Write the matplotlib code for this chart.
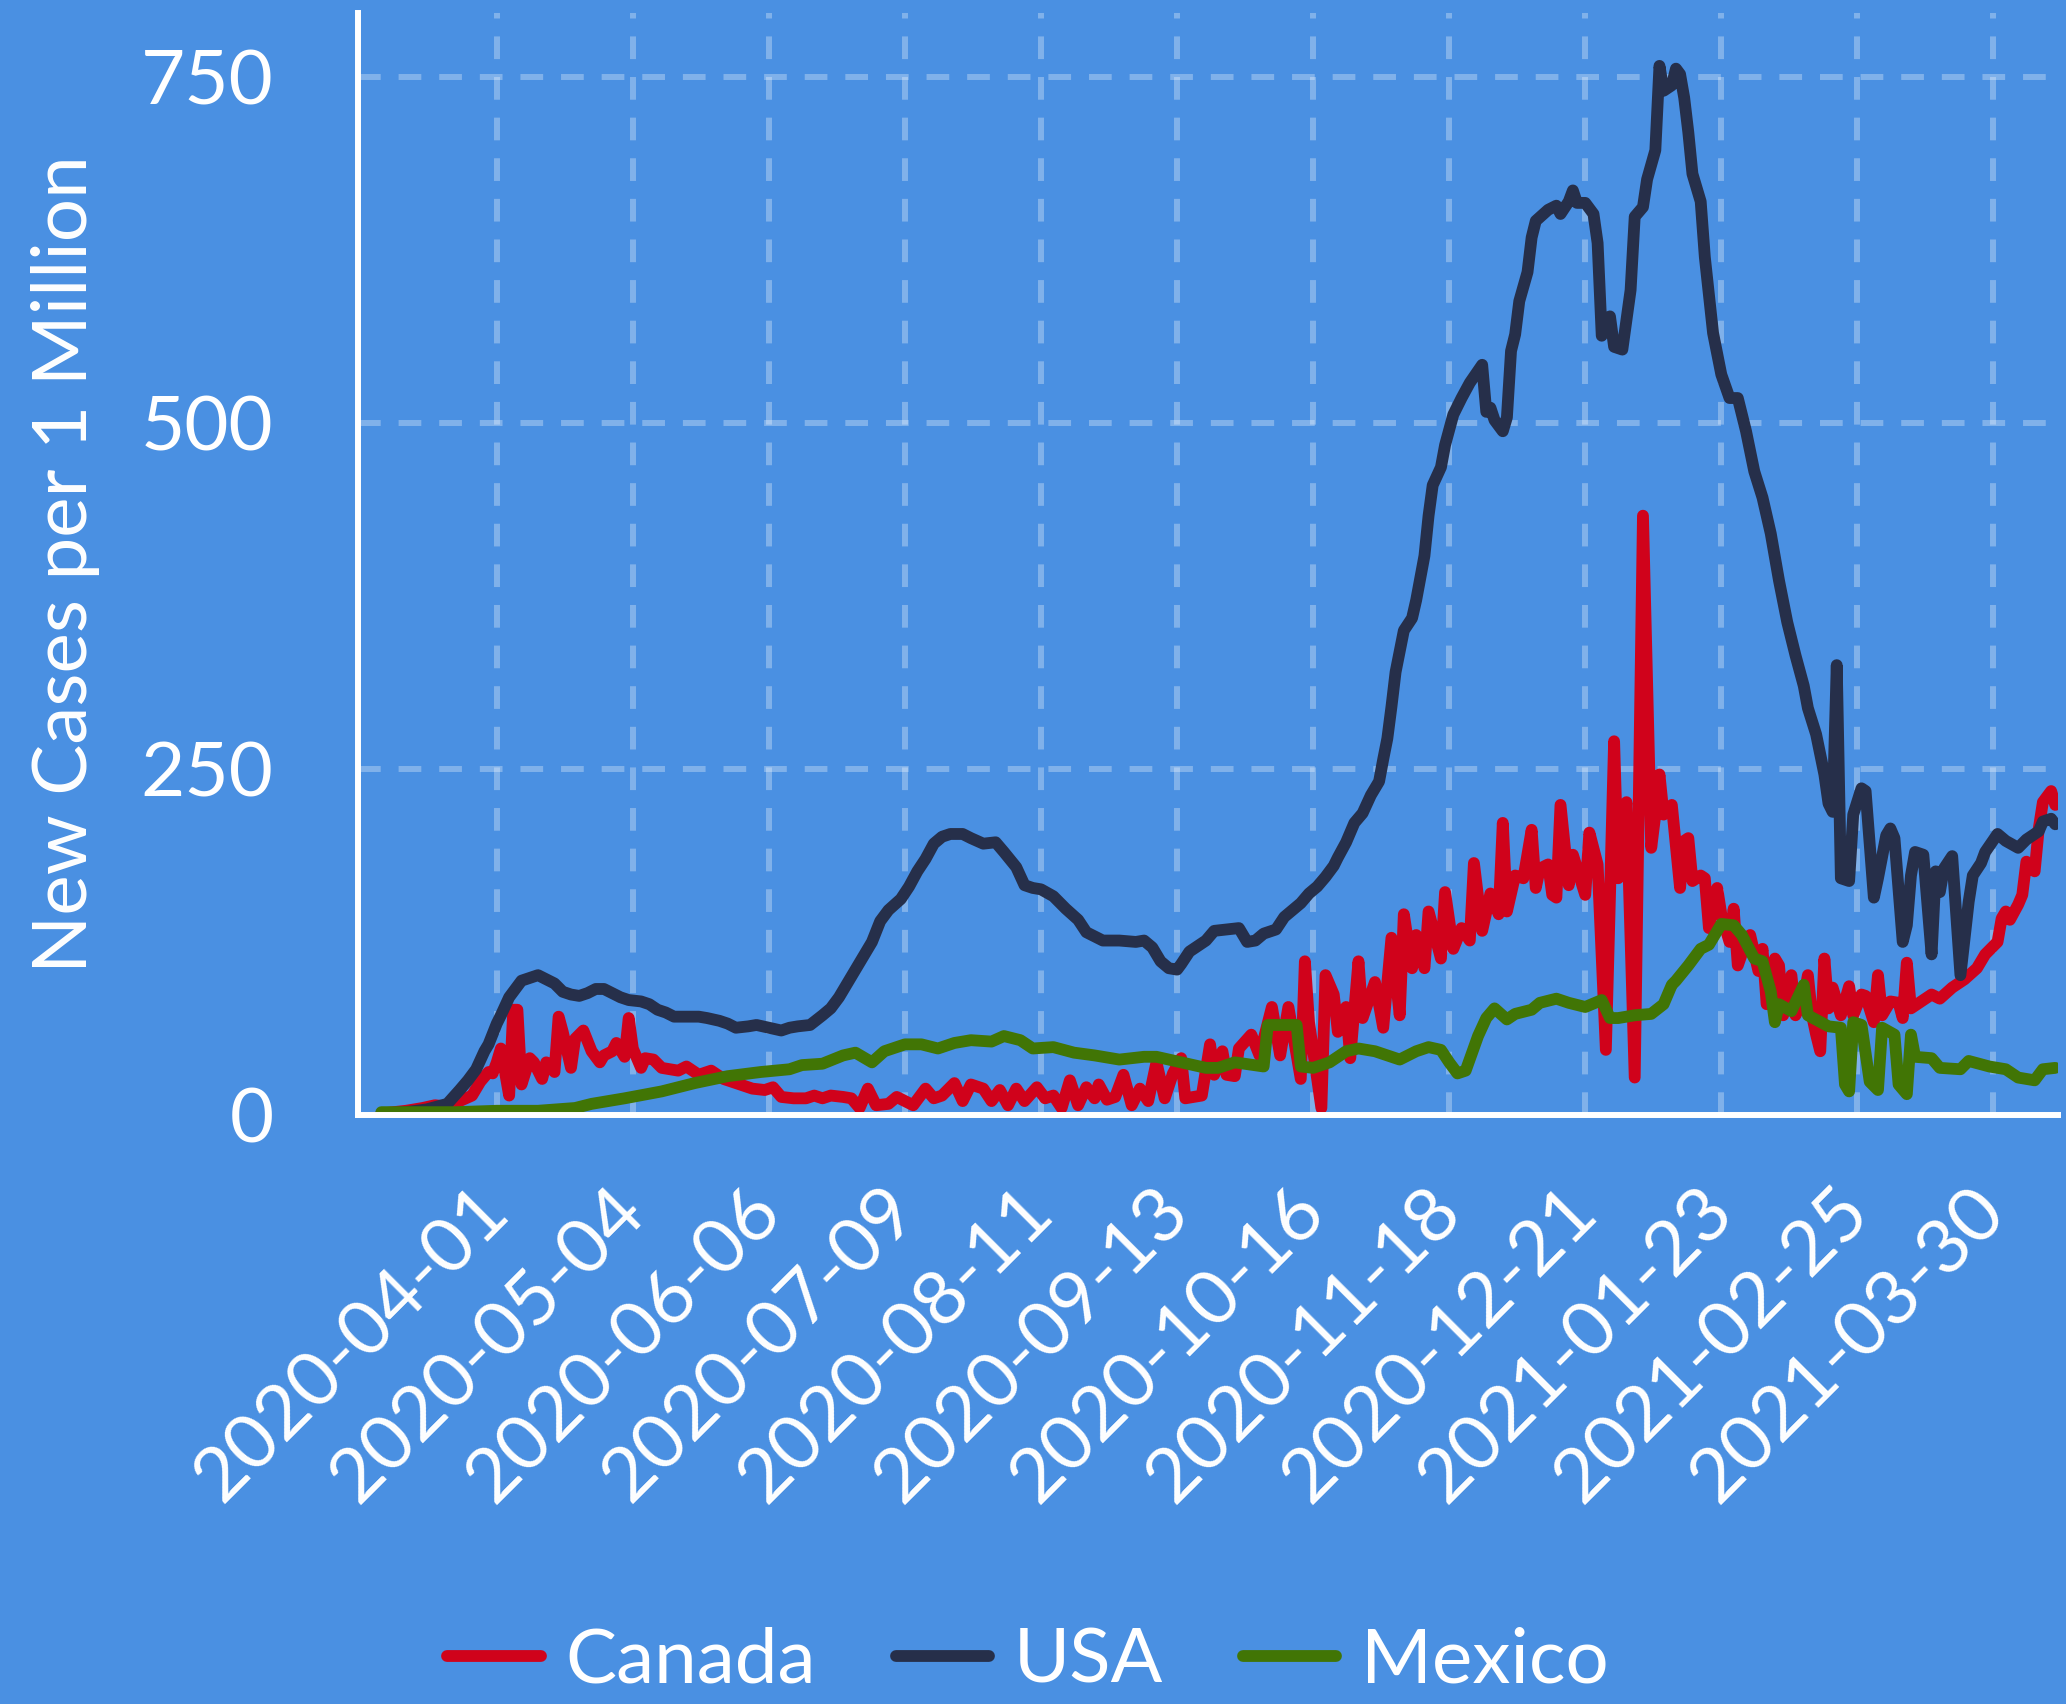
import matplotlib.pyplot as plt

# day offsets from 2020-04-01, daily new cases per 1 million
canada_day = [-28, -22, -18, -15, -12, -9, -6, -4, -2, -1, 0, 1, 2, 3, 4, 5, 6, 8, 9, 11,
              12, 14, 15, 16, 18, 19, 21, 23, 25, 26, 28, 29, 31, 32, 33, 35, 36, 38, 40, 44,
              46, 49, 52, 55, 58, 62, 65, 67, 69, 72, 75, 77, 79, 81, 84, 86, 88, 90, 92, 95,
              97, 99, 101, 104, 106, 108, 111, 113, 115, 118, 120, 122, 124, 126, 128, 131, 133, 135, 137, 139,
              141, 143, 145, 146, 148, 150, 152, 154, 156, 158, 160, 162, 164, 166, 167, 171, 173, 174, 176, 177,
              179, 180, 183, 185, 188, 190, 192, 195, 196, 197, 200, 201, 203, 204, 206, 207, 209, 210, 213, 215,
              217, 219, 220, 222, 223, 225, 226, 229, 230, 232, 234, 236, 237, 239, 241, 243, 244, 245, 247, 249,
              251, 252, 253, 255, 256, 257, 258, 260, 261, 264, 265, 267, 269, 271, 272, 274, 276, 278, 280, 281,
              282, 283, 285, 287, 288, 289, 290, 292, 293, 294, 296, 297, 299, 300, 301, 303, 304, 306, 307, 308,
              310, 311, 312, 314, 315, 317, 318, 319, 320, 321, 322, 323, 324, 326, 328, 329, 331, 332, 334, 335,
              336, 338, 340, 341, 342, 343, 345, 348, 350, 353, 356, 359, 361, 364, 365, 366, 367, 369, 370, 371,
              373, 374, 375, 377, 378]
canada_val = [1, 3, 5, 7, 6, 10, 14, 24, 31, 30, 38, 48, 31, 14, 76, 76, 22, 41, 38, 26,
              38, 31, 71, 60, 34, 55, 61, 46, 38, 43, 46, 52, 42, 70, 48, 34, 41, 40, 34, 32,
              35, 29, 32, 26, 23, 19, 18, 20, 13, 12, 12, 14, 12, 14, 13, 12, 5, 19, 7, 8,
              13, 10, 7, 19, 12, 14, 23, 10, 22, 19, 10, 18, 7, 19, 10, 20, 12, 14, 5, 25,
              7, 20, 12, 22, 11, 13, 29, 7, 19, 10, 38, 12, 30, 41, 12, 14, 51, 29, 46, 29,
              28, 48, 58, 43, 78, 43, 78, 26, 111, 67, 5, 101, 87, 60, 78, 41, 111, 70, 96, 63,
              128, 72, 145, 106, 130, 106, 147, 113, 161, 120, 135, 126, 182, 133, 160, 145, 211, 147, 173, 171,
              206, 164, 178, 181, 159, 157, 224, 166, 188, 159, 204, 181, 47, 270, 171, 226, 27, 433, 193, 217,
              246, 217, 224, 164, 198, 200, 169, 173, 171, 135, 164, 145, 125, 149, 108, 125, 130, 104, 120, 80,
              113, 108, 72, 101, 72, 84, 101, 72, 58, 46, 113, 77, 92, 72, 93, 72, 87, 86, 67, 101,
              72, 82, 81, 70, 110, 77, 81, 87, 84, 92, 98, 106, 116, 125, 142, 147, 141, 152, 159, 183,
              176, 207, 226, 234, 224]

usa_day = [-28, -22, -17, -12, -9, -7, -5, -3, -2, 0, 1, 3, 5, 6, 8, 10, 12, 14, 16, 18,
           20, 22, 24, 26, 28, 30, 32, 35, 37, 39, 41, 43, 46, 49, 51, 54, 56, 58, 61, 63,
           66, 69, 71, 73, 76, 79, 81, 83, 85, 87, 89, 91, 93, 95, 98, 100, 102, 104, 106, 108,
           110, 113, 115, 118, 121, 123, 126, 128, 130, 132, 135, 138, 141, 143, 145, 147, 151, 155, 157, 159,
           161, 163, 165, 166, 168, 170, 172, 174, 177, 180, 182, 184, 186, 189, 191, 193, 195, 197, 199, 201,
           203, 204, 206, 208, 210, 212, 214, 215, 216, 217, 218, 220, 222, 223, 225, 226, 227, 229, 230, 232,
           234, 236, 239, 240, 241, 242, 244, 245, 246, 247, 248, 250, 251, 252, 255, 257, 258, 260, 261, 262,
           264, 266, 267, 268, 270, 271, 273, 275, 276, 278, 279, 281, 282, 283, 285, 286, 287, 288, 289, 290,
           292, 293, 295, 297, 299, 301, 303, 305, 307, 309, 311, 313, 315, 317, 318, 320, 322, 323, 324, 325,
           326, 327, 328, 329, 331, 332, 334, 335, 337, 338, 339, 341, 342, 343, 344, 346, 348, 349, 350, 351,
           353, 355, 357, 358, 360, 361, 364, 366, 369, 371, 374, 375, 377, 378]
usa_val = [1, 2, 4, 8, 18, 25, 33, 46, 51, 66, 72, 85, 93, 97, 99, 101, 98, 95, 89, 87,
           86, 88, 91, 91, 88, 85, 83, 82, 80, 76, 74, 71, 71, 71, 70, 68, 66, 63, 64, 65,
           63, 61, 63, 64, 65, 72, 77, 85, 95, 105, 115, 125, 140, 148, 156, 165, 176, 185, 196, 201,
           203, 203, 200, 196, 197, 190, 179, 166, 164, 163, 158, 149, 141, 132, 129, 126, 126, 125, 126, 121,
           111, 106, 105, 109, 118, 122, 126, 133, 134, 135, 125, 126, 131, 134, 143, 148, 153, 160, 165, 172,
           180, 186, 197, 211, 218, 231, 241, 257, 272, 295, 320, 350, 359, 372, 404, 433, 455, 468, 484, 506,
           518, 529, 542, 508, 511, 502, 494, 504, 552, 564, 588, 609, 634, 646, 654, 657, 651, 660, 668, 659,
           659, 651, 630, 563, 577, 555, 553, 596, 649, 656, 676, 697, 758, 740, 744, 756, 752, 735, 710, 680,
           660, 620, 565, 535, 518, 518, 494, 465, 446, 420, 386, 356, 332, 310, 294, 275, 246, 225, 219, 325,
           171, 170, 169, 217, 236, 234, 157, 171, 202, 207, 200, 125, 137, 173, 190, 188, 116, 176, 161, 178,
           187, 101, 154, 173, 182, 190, 203, 198, 193, 199, 205, 212, 214, 210]

mexico_day = [-28, -10, 0, 10, 19, 23, 31, 40, 48, 56, 64, 71, 74, 79, 84, 87, 91, 94, 99, 103,
              107, 111, 115, 120, 123, 127, 130, 135, 140, 145, 151, 157, 160, 166, 172, 175, 179, 186, 187, 194,
              195, 198, 202, 206, 209, 213, 219, 223, 226, 229, 231, 233, 235, 238, 240, 242, 245, 247, 251, 253,
              257, 260, 264, 268, 270, 272, 276, 280, 283, 285, 286, 289, 292, 294, 297, 300, 302, 305, 307, 309,
              310, 311, 314, 317, 318, 323, 326, 327, 328, 329, 331, 333, 335, 336, 339, 340, 342, 343, 344, 348,
              350, 355, 357, 362, 366, 369, 373, 375, 378]
mexico_val = [2, 2, 3, 3, 5, 8, 12, 17, 23, 28, 31, 33, 36, 37, 43, 45, 38, 46, 51, 51,
              48, 52, 54, 53, 57, 54, 48, 49, 45, 43, 40, 42, 42, 38, 34, 34, 38, 35, 65, 65,
              35, 34, 38, 46, 48, 46, 40, 46, 49, 47, 38, 30, 32, 57, 70, 77, 69, 73, 76, 81,
              84, 81, 78, 83, 70, 70, 72, 73, 80, 94, 97, 108, 120, 123, 138, 137, 130, 113, 111, 89,
              67, 80, 75, 94, 72, 64, 63, 22, 17, 67, 65, 24, 18, 63, 58, 22, 15, 58, 42, 41,
              34, 33, 39, 35, 33, 27, 25, 33, 34]

tick_days = [0, 33, 66, 99, 132, 165, 198, 231, 264, 297, 330, 363]
tick_labels = ['2020-04-01', '2020-05-04', '2020-06-06', '2020-07-09', '2020-08-11', '2020-09-13',
               '2020-10-16', '2020-11-18', '2020-12-21', '2021-01-23', '2021-02-25', '2021-03-30']
y_ticks = [0, 250, 500, 750]

bg = '#4A90E2'
plt.rcParams['font.family'] = ['Lato', 'DejaVu Sans']

fig = plt.figure(figsize=(20.66, 17.04), dpi=100, facecolor=bg)
ax = fig.add_axes([0.1734, 0.3457, 0.8226, 0.6465])
ax.set_facecolor(bg)

line_kw = dict(lw=8.5, solid_capstyle='round', solid_joinstyle='round')
ax.plot(canada_day, canada_val, color='#D0021B', label='Canada', **line_kw)
ax.plot(usa_day, usa_val, color='#262F4A', label='USA', **line_kw)
ax.plot(mexico_day, mexico_val, color='#417505', label='Mexico', **line_kw)

ax.set_xlim(-33.6, 378.6)
ax.set_ylim(0, 796)
ax.set_xticks(tick_days)
ax.set_xticklabels(tick_labels)
ax.set_yticks(y_ticks)

ax.set_axisbelow(True)
ax.grid(True, color='white', alpha=0.3, lw=4.3, linestyle=(0, (3.8, 3.0)))
for side in ['top', 'right']:
    ax.spines[side].set_visible(False)
for side in ['left', 'bottom']:
    ax.spines[side].set_color('white')
    ax.spines[side].set_linewidth(4.3)

ax.tick_params(length=0, pad=61, labelsize=55, colors='white')
plt.setp(ax.get_xticklabels(), rotation=45, ha='right', va='center', rotation_mode='anchor')

ax.set_ylabel('New Cases per 1 Million', fontsize=55, color='white')
ax.yaxis.set_label_coords(-0.152, 0.5)

leg = fig.legend(ncol=3, loc='center', bbox_to_anchor=(0.4975, 0.025), frameon=False,
                 fontsize=55, handlelength=1.22, handletextpad=0.32, columnspacing=1.05)
for t in leg.get_texts():
    t.set_color('white')

fig.savefig('out.png', dpi=100, facecolor=bg)
